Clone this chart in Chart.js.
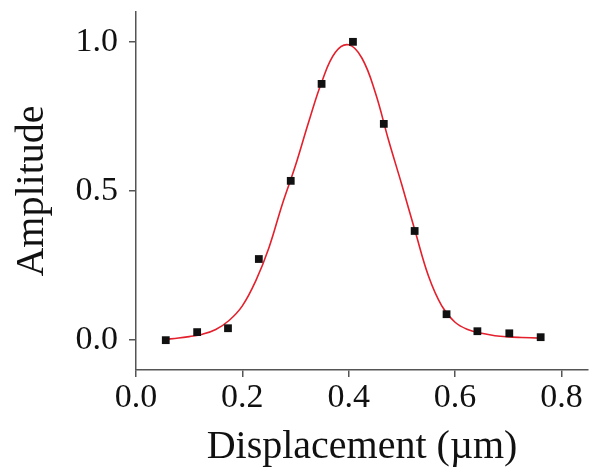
<!DOCTYPE html>
<html>
<head>
<meta charset="utf-8">
<script src="https://cdn.jsdelivr.net/npm/chart.js@4"></script>
<style>
  html, body { margin: 0; padding: 0; background: #fff; }
  #wrap { width: 608px; height: 476px; }
</style>
</head>
<body>
<div id="wrap"><canvas id="gaussChart" width="608" height="476"></canvas></div>
<script>
// ==============================
// DATA
// ==============================
const pointX = [0.056, 0.115, 0.173, 0.231, 0.291, 0.349, 0.408, 0.466, 0.524, 0.584, 0.642, 0.702, 0.761];
const pointY = [0.0, 0.027, 0.04, 0.272, 0.534, 0.859, 1.0, 0.725, 0.366, 0.087, 0.03, 0.023, 0.01];

// red fitted curve, sampled by eye
const fitX = [0.056, 0.08, 0.10, 0.125, 0.15, 0.175, 0.20, 0.225, 0.25, 0.275, 0.30, 0.325, 0.35, 0.375,
              0.40, 0.425, 0.45, 0.475, 0.50, 0.525, 0.55, 0.575, 0.60, 0.625, 0.65, 0.675, 0.70, 0.725, 0.759];
const fitY = [0.003, 0.007, 0.012, 0.02, 0.036, 0.066, 0.115, 0.198, 0.31, 0.455, 0.586, 0.733, 0.869, 0.965,
              0.99, 0.945, 0.83, 0.67, 0.52, 0.365, 0.215, 0.115, 0.06, 0.035, 0.023, 0.015, 0.011, 0.009, 0.007];

const xTicks = [0.0, 0.2, 0.4, 0.6, 0.8];
const yTicks = [0.0, 0.5, 1.0];

const xTitle = "Displacement (\u00b5m)";
const yTitle = "Amplitude";

// ==============================
// STYLE
// ==============================
const SERIF = "'Liberation Serif', 'Times New Roman', serif";
const AXIS_COLOR = "#555";
const TEXT_COLOR = "#111";

const toXY = (xs, ys) => xs.map((x, i) => ({ x, y: ys[i] }));

const axisCommon = {
  grid: { drawOnChartArea: false, drawTicks: true, tickLength: 7, color: AXIS_COLOR, lineWidth: 1.5 },
  border: { display: true, color: AXIS_COLOR, width: 1.5 },
};

// ==============================
// CHART
// ==============================
const ctx = document.getElementById("gaussChart").getContext("2d");

new Chart(ctx, {
  type: "scatter",
  data: {
    datasets: [
      {
        label: "data",
        data: toXY(pointX, pointY),
        pointStyle: "rect",
        pointRadius: 5.5,
        pointBackgroundColor: "#111",
        pointBorderWidth: 0,
        showLine: false,
        order: 0,
      },
      {
        label: "fit",
        data: toXY(fitX, fitY),
        showLine: true,
        borderColor: "#e3202c",
        borderWidth: 1.6,
        pointRadius: 0,
        tension: 0.4,
        order: 1,
      },
    ],
  },
  options: {
    responsive: false,
    animation: false,
    layout: { padding: { top: 12, right: 20, left: 0, bottom: 0 } },
    plugins: { legend: { display: false }, tooltip: { enabled: false } },
    scales: {
      x: {
        ...axisCommon,
        type: "linear",
        min: 0,
        max: 0.85,
        afterBuildTicks: (axis) => { axis.ticks = xTicks.map((v) => ({ value: v })); },
        afterFit: (scale) => {
          scale.height = 106;
          scale.paddingLeft = 0;
          scale.paddingRight = 0;
        },
        ticks: {
          autoSkip: false,
          maxRotation: 0,
          padding: 1,
          color: TEXT_COLOR,
          font: { family: SERIF, size: 34 },
          callback: (v) => Number(v).toFixed(1),
        },
        title: {
          display: true,
          text: xTitle,
          color: TEXT_COLOR,
          font: { family: SERIF, size: 40 },
          padding: { top: 0, bottom: 5 },
        },
      },
      y: {
        ...axisCommon,
        type: "linear",
        min: -0.1,
        max: 1.1,
        afterBuildTicks: (axis) => { axis.ticks = yTicks.map((v) => ({ value: v })); },
        afterFit: (scale) => {
          scale.width = 136;
          scale.paddingTop = 0;
          scale.paddingBottom = 0;
        },
        ticks: {
          padding: 11,
          color: TEXT_COLOR,
          font: { family: SERIF, size: 34 },
          callback: (v) => Number(v).toFixed(1),
        },
        title: {
          display: true,
          text: yTitle,
          color: TEXT_COLOR,
          font: { family: SERIF, size: 40 },
          padding: { top: 8, bottom: 0 },
        },
      },
    },
  },
});
</script>
</body>
</html>
